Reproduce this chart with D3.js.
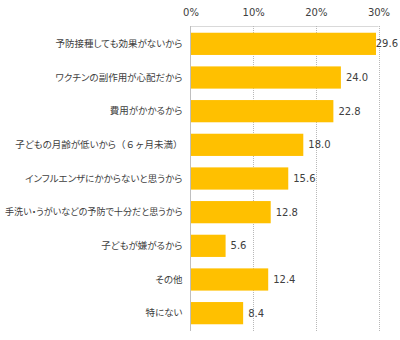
<!DOCTYPE html>
<html>
<head>
<meta charset="utf-8">
<script src="https://cdn.jsdelivr.net/npm/d3@7"></script>
<style>
  html, body { margin: 0; padding: 0; background: #fff; }
  svg { display: block; }
  .prop { font-feature-settings: "palt" 1; }
  .full { font-feature-settings: normal; }
</style>
</head>
<body>
<svg id="chart" width="400" height="340"></svg>
<script>
// Reasons given for not getting a flu vaccination (%)
const categories = [
  "予防接種しても効果がないから",
  "ワクチンの副作用が心配だから",
  "費用がかかるから",
  "子どもの月齢が低いから（６ヶ月未満）",
  "インフルエンザにかからないと思うから",
  "手洗い・うがいなどの予防で十分だと思うから",
  "子どもが嫌がるから",
  "その他",
  "特にない"
];
const values = [29.6, 24.0, 22.8, 18.0, 15.6, 12.8, 5.6, 12.4, 8.4];
const tickValues = [0, 10, 20, 30];
const tickLabels = ["0%", "10%", "20%", "30%"];

const svg = d3.select("#chart");
const W = 400;
const plotLeft = 190.5, plotRight = 378.5, plotTop = 26, plotBottom = 331;

const x = d3.scaleLinear().domain([0, 30]).range([plotLeft, plotRight]);
const y = d3.scaleBand().domain(categories).range([plotTop, plotBottom])
  .paddingInner(0.34).paddingOuter(0.2);

const textColor = "#404040";
const latinFont = "'DejaVu Sans', Verdana, sans-serif";
const cjkFont = "'Noto Sans CJK JP', sans-serif";

// top border of the plot area
svg.append("line")
  .attr("x1", plotLeft).attr("x2", plotRight)
  .attr("y1", plotTop + 0.5).attr("y2", plotTop + 0.5)
  .attr("stroke", "#d9d9d9").attr("stroke-width", 1);

// dotted gridlines
svg.append("g")
  .selectAll("line")
  .data(tickValues.slice(1))
  .join("line")
  .attr("x1", d => Math.round(x(d)) + 0.5)
  .attr("x2", d => Math.round(x(d)) + 0.5)
  .attr("y1", plotTop).attr("y2", plotBottom)
  .attr("stroke", "#b8b8b8")
  .attr("stroke-width", 1)
  .attr("stroke-dasharray", "1,1");

// top axis tick labels
const axis = d3.axisTop(x)
  .tickValues(tickValues)
  .tickFormat((d, i) => tickLabels[i])
  .tickSize(0)
  .tickPadding(0);
const gAxis = svg.append("g").attr("transform", "translate(0,12)").call(axis);
gAxis.select(".domain").remove();
gAxis.selectAll("text")
  .attr("font-family", latinFont)
  .attr("font-size", 10)
  .attr("fill", textColor)
  .attr("dy", "0.35em")
  .attr("y", 0);

// bars
svg.append("g")
  .selectAll("rect")
  .data(values)
  .join("rect")
  .attr("x", x(0))
  .attr("y", (d, i) => y(categories[i]))
  .attr("width", d => x(d) - x(0))
  .attr("height", y.bandwidth())
  .attr("fill", "#FFC000");

// category axis line
svg.append("line")
  .attr("x1", plotLeft).attr("x2", plotLeft)
  .attr("y1", plotTop).attr("y2", plotBottom)
  .attr("stroke", "#bfbfbf").attr("stroke-width", 1);

// category labels: proportional kana, full-width brackets
const labelRight = plotLeft - 8;
const labelMaxWidth = labelRight - 5;
svg.append("g")
  .selectAll("text")
  .data(categories)
  .join("text")
  .attr("x", labelRight)
  .attr("y", d => y(d) + y.bandwidth() / 2)
  .attr("dy", "0.35em")
  .attr("text-anchor", "end")
  .attr("font-family", cjkFont)
  .attr("font-size", 9.5)
  .attr("fill", textColor)
  .each(function (d) {
    const t = d3.select(this);
    d.split(/(（[^）]*）)/).filter(s => s.length).forEach(part => {
      t.append("tspan")
        .attr("class", part.startsWith("（") ? "full" : "prop")
        .text(part);
    });
    const w = this.getComputedTextLength();
    if (w > labelMaxWidth) {
      t.attr("textLength", labelMaxWidth).attr("lengthAdjust", "spacingAndGlyphs");
    }
  });

// value labels
svg.append("g")
  .selectAll("text")
  .data(values)
  .join("text")
  .attr("y", (d, i) => y(categories[i]) + y.bandwidth() / 2)
  .attr("dy", "0.35em")
  .attr("font-family", latinFont)
  .attr("font-size", 10)
  .attr("fill", textColor)
  .text(d => d.toFixed(1))
  .each(function (d) {
    const w = this.getComputedTextLength();
    const px = Math.min(x(d) + 5, W - 2 - w);
    d3.select(this).attr("x", px);
  });
</script>
</body>
</html>
